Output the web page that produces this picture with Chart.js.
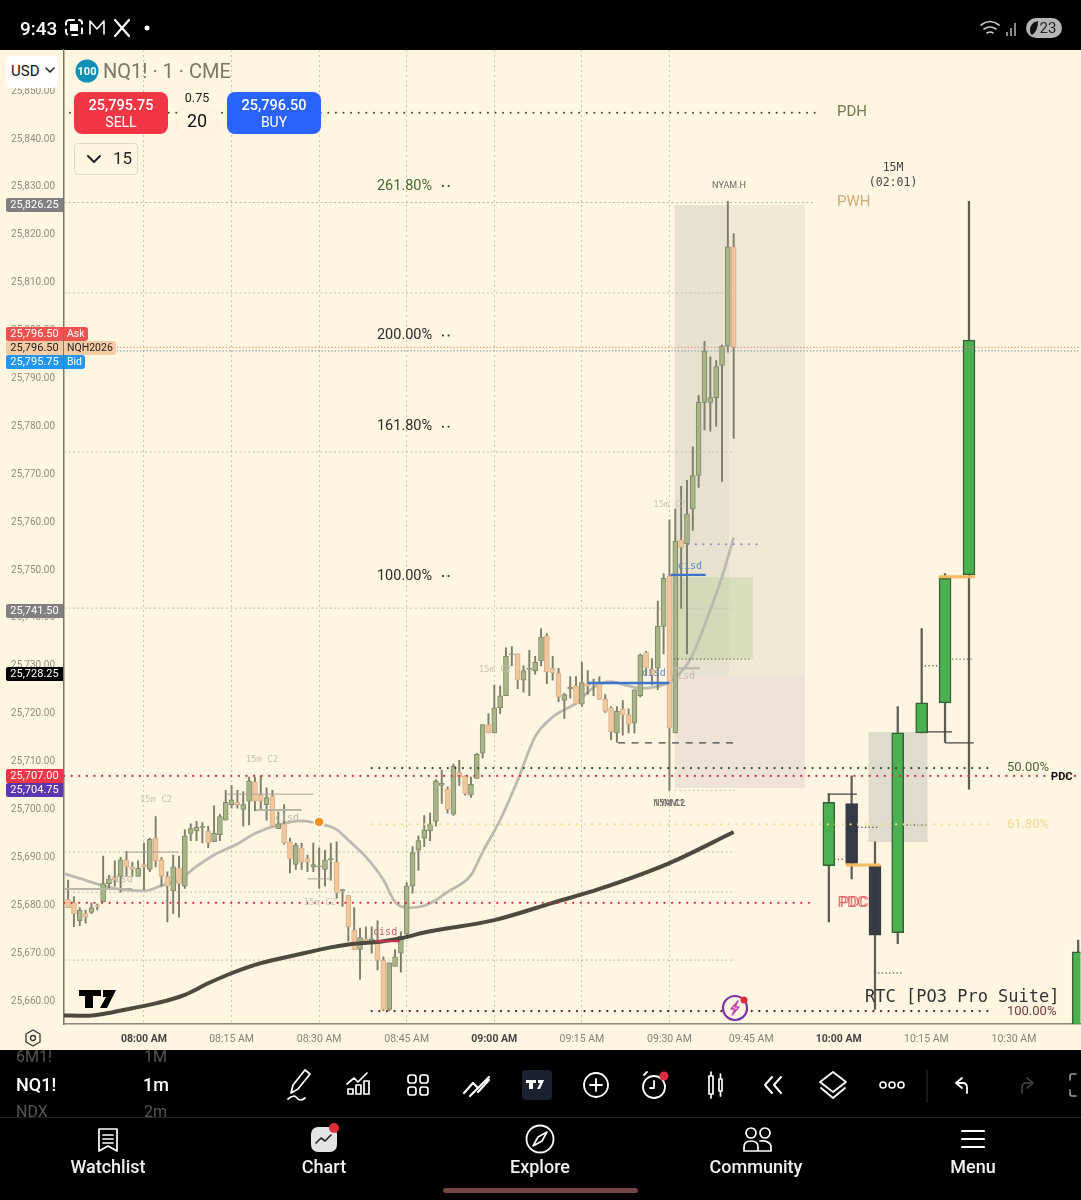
<!DOCTYPE html>
<html>
<head>
<meta charset="utf-8">
<title>NQ1! 1m</title>
<script src="https://cdn.jsdelivr.net/npm/chart.js@4/dist/chart.umd.min.js"></script>
<style>
html,body{margin:0;padding:0;background:#000;width:1081px;height:1200px;overflow:hidden;font-family:Roboto,sans-serif}
#paper{position:absolute;left:0;top:50px;width:1081px;height:1000px;background:#fff5e0}
#chart{position:absolute;left:0;top:0}
#icons{position:absolute;left:0;top:0;pointer-events:none}
.t{position:absolute;white-space:nowrap;line-height:1}
.c{transform:translateX(-50%)}
.chip{position:absolute;left:6px;width:57px;height:14px;line-height:14px;font-size:11px;text-align:center;border-radius:2px 0 0 2px}
.tag{position:absolute;left:64px;height:14px;line-height:14px;font-size:10.5px;padding:0 3px;border-radius:0 3px 3px 0}
.btn{position:absolute;top:92px;width:94px;height:42px;border-radius:8px;color:#fff;text-align:center}
.btn b{display:block;font-size:14.5px;font-weight:500;margin-top:5px;line-height:17px}
.btn span{display:block;font-size:14px;line-height:16px}
.tab{position:absolute;top:1157px;font-size:18px;font-weight:500;color:#f2f2f2;transform:translateX(-50%);line-height:1.1}
</style>
</head>
<body>
<div id="paper"></div>
<canvas id="chart" width="1087" height="1200"></canvas>

<!-- chart header, sits under the icon layer -->
<div class="t" style="left:6px;top:56px;width:52px;height:32px;background:#fff;border-radius:5px;font-size:15px;line-height:31px;text-indent:5px;color:#111">USD</div>

<svg id="icons" width="1081" height="1200" fill="none" stroke="#fff" stroke-width="2" stroke-linecap="round" stroke-linejoin="round">
  <!-- status bar -->
  <rect x="66" y="20" width="16" height="15" rx="3" stroke-dasharray="5 5"/><rect x="70" y="24" width="8" height="7" fill="#fff" stroke="none"/>
  <path d="M90 34V21l7 8 7-8v13" stroke-width="1.6"/>
  <path d="M115 20l14 16M129 20l-14 16" stroke-width="2.2"/>
  <circle cx="147" cy="28" r="2.5" fill="#fff" stroke="none"/>
  <path d="M981 25q9-7 18 0M984 29q6-4 12 0M987 33q3-2 6 0" stroke-width="1.6" stroke="#ccc"/>
  <path d="M1006 36h2v-4h-2zM1010 36h2v-8h-2zM1014 36h2v-13h-2z" fill="#888" stroke="none"/>
  <rect x="1026" y="18" width="36" height="20" rx="10" fill="#b5b5b5" stroke="none"/>
  <path d="M1038 21q-8 2-8 9 0 4 2 5 6-4 6-14z" fill="#111" stroke="none"/>
  <!-- chart marks -->
  <path d="M46 68l4 4 4-4" stroke="#222" stroke-width="1.6"/>
  <path d="M79 990h22v6h-8v12h-8v-12h-6zM103 990h13l-9 18h-7l6-11h-3z" fill="#000" stroke="none"/>
  <circle cx="735" cy="1008" r="12" stroke="#7b2fa8" stroke-width="2.2" fill="#fff5e0"/>
  <path d="M738 1001l-7 8h4l-3 6 7-8h-4z" stroke="#c23fae" stroke-width="1.4"/>
  <circle cx="744" cy="1000" r="3.5" fill="#e22b3c" stroke="none"/>
  <circle cx="87" cy="71" r="11.5" fill="#0d8fb8" stroke="none"/>
  <path d="M88 156l6 6 6-6" stroke="#222"/>
  <path d="M33 1030l7 4v8l-7 4-7-4v-8z" stroke="#333" stroke-width="1.3"/><circle cx="33" cy="1038" r="2.5" stroke="#333" stroke-width="1.3"/>
  <!-- toolbar -->
  <path d="M291 1093l2-8 12-15 5 4-12 15zM288 1099q6-5 9-1t8 0" stroke-width="1.7"/>
  <path d="M348 1094v-5h5v5zM356 1094v-9h5v9zM364 1094v-13h5v13zM347 1084l7-6 4 4 9-9" stroke-width="1.7"/>
  <rect x="408" y="1075" width="8" height="8" rx="2.5" stroke-width="1.7"/><rect x="420" y="1075" width="8" height="8" rx="2.5" stroke-width="1.7"/><rect x="408" y="1087" width="8" height="8" rx="2.5" stroke-width="1.7"/><rect x="420" y="1087" width="8" height="8" rx="2.5" stroke-width="1.7"/>
  <path d="M464 1093l9-10 5 5 11-11M470 1096l8-8M478 1092l11-12" stroke-width="2.2"/>
  <rect x="522" y="1070" width="30" height="30" rx="4" fill="#1b2130" stroke="none"/>
  <path d="M526 1080h10v3h-3v6h-4v-6h-3zM538 1080h6l-4 9h-3l3-6h-2z" fill="#fff" stroke="none"/>
  <circle cx="596" cy="1085" r="12" stroke-width="1.8"/><path d="M596 1079v12M590 1085h12" stroke-width="1.8"/>
  <circle cx="654" cy="1087" r="11" stroke-width="1.8"/><path d="M654 1081v7l-4 0M644 1075l3-3" stroke-width="1.8"/>
  <circle cx="664" cy="1076" r="4.5" fill="#e22b3c" stroke="none"/>
  <path d="M709 1076v18h4v-18zM711 1072v4M711 1094v4M719 1079v12h3v-12zM720.5 1074v5M720.5 1091v5" stroke-width="1.7"/>
  <path d="M772 1077l-7 8 7 8M781 1077l-7 8 7 8" stroke-width="2"/>
  <path d="M833 1072l13 10-13 10-13-10zM821 1088l12 10 12-10" stroke-width="1.8"/>
  <circle cx="883" cy="1085" r="3" stroke-width="1.6"/><circle cx="892" cy="1085" r="3" stroke-width="1.6"/><circle cx="901" cy="1085" r="3" stroke-width="1.6"/>
  <path d="M927 1070v32" stroke="#333" stroke-width="1"/>
  <path d="M962 1078l-6 5 6 5M956 1083h7q4 0 4 5v5" stroke-width="1.8"/>
  <path d="M1027 1078l6 5-6 5M1033 1083h-7q-4 0-4 5v5" stroke="#3a3a3a" stroke-width="1.8"/>
  <path d="M1076 1074h-4q-2 0-2 2v4M1070 1090v4q0 2 2 2h4" stroke="#999" stroke-width="1.6"/>
  <path d="M0 1117.5h1081" stroke="#222" stroke-width="1"/>
  <!-- tab bar -->
  <path d="M99 1129h18v22l-9-5-9 5zM103 1135h10M103 1139h10M103 1143h10" stroke-width="1.7"/>
  <rect x="311" y="1127" width="26" height="25" rx="7" fill="#e4e4e4" stroke="none"/>
  <path d="M316 1143l5-5 4 3 6-6" stroke="#222" stroke-width="1.6"/>
  <circle cx="334" cy="1128" r="5" fill="#e22b3c" stroke="none"/>
  <circle cx="540" cy="1139" r="13.5" stroke-width="1.8"/><path d="M547 1132l-9 5-5 9 9-5z" stroke-width="1.6"/>
  <circle cx="751" cy="1133" r="5" stroke-width="1.7"/><circle cx="765" cy="1133" r="5" stroke-width="1.7"/>
  <path d="M744 1151v-4q0-6 7-6 7 0 7 6v4zM760 1141q9-1 11 5v5h-13" stroke-width="1.7"/>
  <path d="M962 1131h22M962 1139h22M962 1147h22" stroke-width="2.2"/>
  <rect x="443" y="1188" width="195" height="5" rx="2.5" fill="#764545" stroke="none"/>
</svg>

<!-- status bar -->
<div class="t" style="left:20px;top:19px;font-size:19px;font-weight:500;color:#fff">9:43</div>
<div class="t c" style="left:1048px;top:21px;font-size:15px;color:#222">23</div>

<div class="t c" style="left:87px;top:66px;font-size:11px;font-weight:700;color:#fff">100</div>
<div class="t" style="left:103px;top:61px;font-size:20px;color:#7c7867">NQ1! · 1 · CME</div>
<div class="btn" style="left:74px;background:#f23645"><b>25,795.75</b><span>SELL</span></div>
<div class="btn" style="left:227px;background:#2962ff"><b>25,796.50</b><span>BUY</span></div>
<div class="t" style="left:177px;top:108px;width:40px;height:26px;background:#fff5e0;border-radius:9px;box-shadow:0 0 2px #eadfc8"></div>
<div class="t c" style="left:197px;top:92px;width:40px;height:16px;background:#fff5e0"></div>
<div class="t c" style="left:197px;top:92px;font-size:12.5px;color:#222">0.75</div>
<div class="t c" style="left:197px;top:112px;font-size:18px;color:#111">20</div>
<div class="t" style="left:74px;top:143px;width:62px;height:30px;border:1px solid #e2dac8;border-radius:4px"></div>
<div class="t" style="left:113px;top:150px;font-size:17px;color:#222">15</div>

<!-- price scale tags -->
<div class="chip" style="top:198px;background:#808080;color:#fff">25,826.25</div>
<div class="chip" style="top:327px;background:#ef5350;color:#fff">25,796.50</div>
<div class="tag" style="top:327px;background:#ef5350;color:#fff">Ask</div>
<div class="chip" style="top:341px;background:#f5cba3;color:#222">25,796.50</div>
<div class="tag" style="top:341px;background:#f5cba3;color:#222">NQH2026</div>
<div class="chip" style="top:355px;background:#2196f3;color:#fff">25,795.75</div>
<div class="tag" style="top:355px;background:#2196f3;color:#fff">Bid</div>
<div class="chip" style="top:604px;background:#808080;color:#fff">25,741.50</div>
<div class="chip" style="top:667px;background:#000;color:#fff">25,728.25</div>
<div class="chip" style="top:769px;background:#f23645;color:#fff">25,707.00</div>
<div class="chip" style="top:783px;background:#5e35b1;color:#fff">25,704.75</div>

<!-- toolbar text -->
<div style="position:absolute;left:0;top:1050px;width:260px;height:67px;overflow:hidden">
  <div class="t" style="left:16px;top:-1px;font-size:16px;color:#555">6M1!</div>
  <div class="t" style="left:144px;top:-1px;font-size:16px;color:#555">1M</div>
  <div class="t" style="left:16px;top:26px;font-size:18px;font-weight:500;color:#fff">NQ1!</div>
  <div class="t" style="left:143px;top:26px;font-size:18px;font-weight:500;color:#fff">1m</div>
  <div class="t" style="left:16px;top:54px;font-size:16px;color:#555">NDX</div>
  <div class="t" style="left:144px;top:54px;font-size:16px;color:#555">2m</div>
</div>
<div class="tab" style="left:108px">Watchlist</div>
<div class="tab" style="left:324px">Chart</div>
<div class="tab" style="left:540px">Explore</div>
<div class="tab" style="left:756px">Community</div>
<div class="tab" style="left:973px">Menu</div>

<script>
'use strict';

// 1 minute bars, first one is bar -13 (bar 0 = 08:00)
const firstBar = -13;
const opens = [
  25681.25,25680.5,25676.75,25678.25,25678.5,25680,25680.75,25684.5,25685.75,25686,
  25689.5,25688,25686,25688.5,25687.5,25694,25689.5,25686,25683,25687.75,
  25684,25695,25695.5,25696.25,25695.5,25693.25,25694.75,25697.75,25701,25701.5,
  25700,25701.75,25705.75,25703,25701,25702.75,25696,25697,25693.25,25688.5,
  25692,25689.75,25688,25688,25687.5,25689.5,25689,25683,25682,25674.75,
  25670.75,25673,25672,25672.25,25668.5,25658.25,25667.25,25670,25674,25684,
  25691.5,25694,25695.5,25697.5,25705,25704.25,25699,25707.75,25707,25703,
  25706.5,25711.75,25717.75,25716,25721.25,25723.75,25732.25,25732.5,25727,25729.25,
  25729,25731,25736.25,25729.5,25728.5,25722.75,25725.25,25725.75,25722,25726.25,
  25726.25,25726.25,25723,25721.25,25716,25721,25719.75,25718,25723.75,25732.75,
  25729.25,25729.5,25738.25,25748.75,25716,25756.25,25755.5,25762.75,25769.75,25785,
  25785,25786,25792.75,25796.75,25817.5
];
const highs = [
  25685.25,25681.75,25679.5,25679,25680.5,25680.25,25690.25,25686.25,25689.25,25690,
  25691.25,25689,25689.25,25693,25694,25698.5,25690,25687,25690.5,25690.25,
  25695.75,25697,25697.5,25697.25,25696.5,25700.75,25699,25704,25705,25704,
  25703.75,25706.75,25706.75,25707,25704.5,25704,25699.5,25701,25694,25693,
  25693,25690.5,25693,25692,25691.5,25693,25693.25,25683.25,25682,25679.5,
  25675.25,25675.5,25675.5,25676.75,25669.25,25668,25670.75,25674.5,25684.75,25692.25,
  25694.5,25698.75,25699.25,25706.25,25708.25,25704.75,25709.5,25710.25,25707,25706.75,
  25711.75,25717.75,25720,25726,25725.75,25733.75,25734,25732.5,25730,25733.25,
  25732,25737.75,25736.75,25732,25729.5,25724.25,25727.75,25727.75,25730.75,25729,
  25727.25,25727.75,25724,25721.5,25721.5,25722.75,25721,25725,25732.5,25733,
  25731.5,25743.5,25749.25,25760.5,25762.75,25767.5,25768.75,25775.75,25786.5,25797.75,
  25794.5,25793.75,25797,25827,25820.25
];
const lows = [
  25679.5,25675.5,25675.75,25676.25,25678.25,25679,25680.75,25683.5,25684,25682.75,
  25686,25686,25686,25683.25,25687,25688,25684,25676.5,25678.25,25677.5,
  25683.5,25693.5,25693.5,25693,25692,25693.25,25693.5,25697.75,25700.25,25700.25,
  25696.5,25696.75,25699.75,25700,25697.75,25696.5,25696,25692.75,25686.75,25687.5,
  25687.5,25687,25687,25683.5,25684,25685.25,25681.5,25679.75,25672.5,25670.75,
  25664.5,25671.75,25670,25666.5,25658,25658,25667.25,25666,25673,25682.5,
  25687.25,25692.25,25693.5,25696.5,25701.25,25699.25,25698.75,25705,25703,25702.5,
  25706.5,25710.75,25716,25716,25720,25723.75,25730,25725.25,25724.5,25723.75,
  25728.25,25730,25726.25,25727,25722.5,25719,25723.25,25722,25721.5,25724,
  25723.75,25723,25720.25,25714.5,25714,25715.5,25716,25716,25723.5,25728,
  25726,25725,25732.5,25704,25716,25742,25732.5,25758.25,25767.25,25779.25,
  25779,25780,25768.5,25795.5,25777.5
];
const closes = [
  25679.5,25678.25,25679,25677.5,25679.5,25679.75,25684.5,25685.5,25685.25,25689.5,
  25688,25687.5,25687.75,25688,25693.75,25689.25,25686,25684,25688,25684.5,
  25694.5,25696,25696.25,25696.5,25693,25695,25698.5,25701.5,25702,25701,
  25701,25706,25701.75,25701.75,25702.5,25696.5,25697,25693,25689.75,25692.5,
  25689,25689,25688.5,25688.25,25689.5,25689.75,25682.5,25683.25,25675.5,25670.75,
  25673.25,25672.25,25673,25668.5,25658.25,25668,25669.25,25673.5,25684,25691,
  25693.5,25695.75,25697,25706,25705.5,25700,25709,25706.75,25703.25,25705.25,
  25711.5,25717.75,25716,25721.25,25723.75,25732,25732.5,25727,25729,25729.5,
  25730.75,25736,25728.75,25728.5,25723.5,25724,25725.5,25722,25726.5,25725.75,
  25726.5,25723,25720.5,25716.25,25720.5,25719.75,25717.75,25725,25732.25,25729.5,
  25728,25738.25,25748.25,25717,25756,25754.75,25761.75,25769.75,25785,25795.75,
  25786,25792.5,25796.75,25817.5,25796.5
];

// 15M candles on the right
const htfBars = [117.3,121.2,125.2,129.1,133.2,137.2,141.3,160];
const htfOpens = [25688.25,25701.25,25688.25,25674.25,25716,25722.25,25749,25655];
const htfHighs = [25703.25,25707,25693.25,25721.5,25737.75,25749.25,25827,25672.75];
const htfLows = [25676.5,25685.5,25658.25,25672,25716,25714,25704.25,25655];
const htfCloses = [25701.5,25688.75,25673.75,25716,25722.25,25748.25,25798,25670.25];

// moving averages
const smaBars = [-14,-11,-7,-4,0,3,6,9,12,16,19,23,27,30,33,35,38,41,43,45,48,50,52,56,58,61,64,67,70,74,77,80,83,85,88,90,93.5,97,99,101];
const smaValues = [25686.7,25685.6,25684.1,25683.3,25683,25684.1,25685.3,25688.1,25690.5,25692.8,25695,25696.8,25697.6,25697,25695.8,25693.6,25690.1,25685.3,25680.7,25679.5,25679.9,25681.1,25682.8,25686.3,25691.1,25697.8,25706.1,25715.2,25719.3,25722.2,25725.5,25726.7,25725.8,25725.3,25725.7,25726.7,25731.2,25741.7,25748.6,25756.8];
const emaBars = [-14,-10,-7,-2,2,7,11,15,20,26,32,35,41,44,48,60,70,78,90,101];
const emaValues = [25657,25656.9,25657.3,25658.5,25659.5,25661.3,25663.7,25665.8,25667.9,25669.6,25671.2,25671.8,25672.5,25673.1,25674.3,25676.9,25680.5,25683.4,25688.8,25695.3];

// axis ticks
const yTicks = [25660,25670,25680,25690,25700,25710,25720,25730,25740,25750,25760,25770,25780,25790,25800,25810,25820,25830,25840,25850];
const xTickBars = [0,15,30,45,60,75,90,104,119,134,149];
const xTickLabels = ['08:00 AM','08:15 AM','08:30 AM','08:45 AM','09:00 AM','09:15 AM','09:30 AM','09:45 AM','10:00 AM','10:15 AM','10:30 AM'];
const xTickBold = ['08:00 AM','09:00 AM','10:00 AM'];

// levels: [from bar, to bar, price]
const pdhLevel = [[-12.7,115,25845.5]];
const pwhLevel = [[-13.7,115,25826.75]];
const pdcLevels = [[-13.7,160.4,25707],[-13.7,115,25680.5]];
const fib50 = [[39,145.7,25708.65]];
const fib618 = [[39,145.7,25696.9]];
const fib100 = [[39,145.7,25657.9]];
const fibStubs = [[51.2,52.6,25830.2],[51.2,52.6,25799],[51.2,52.6,25779.9],[51.2,52.6,25748.75]];
const askLevel = [[-13.7,160.4,25796.5]];
const bidLevel = [[-13.7,160.4,25795.75]];
const faintLevels = [[-13.7,101.2,25807.85],[-13.7,101.2,25774.65],[-13.7,101.2,25742.05],[-13.7,101.2,25691.1],[-13.7,101.2,25682.75],[-13.7,101.2,25668.55],[90.9,101.2,25704]];
const thickGrey = [[-13.7,-2,25683.4],[19.2,27,25699.9],[90.6,95.2,25729.5]];
const thinGrey = [[14,29,25703.2],[-3,6,25691.1],[28,32,25685.5]];
const blueCisd = [[76,90,25726.4],[90.2,96.2,25749]];
const redCisd = [[39.6,43.8,25672.5]];
const blueDots = [[93.2,105,25755.4]];
const darkDots = [[90.9,103.8,25731.4],[122.3,126,25696.3],[118.3,120,25689.6],[130.7,134.1,25696.75],[133.2,136,25730],[138.5,142,25731.4],[125.2,130,25665.85]];
const darkDash = [[81.2,101,25713.9]];
const darkThin = [[117.1,122.1,25703.2],[134.2,138.4,25716.2],[137.2,142.1,25713.9]];
const orangeLevels = [[120.2,126.2,25688.4],[136.1,142.3,25748.6]];

// zones
const zoneFrom = [90.9,100.2,90.9,90.9,124.1];
const zoneTo = [100.2,113.2,113.2,104.3,134.2];
const zoneTop = [25826.2,25826.2,25728.1,25748.5,25716.2];
const zoneBottom = [25728.1,25728.1,25704.5,25731.4,25693.2];
const zoneFill = ['#e7e1cf','#f1e9d6','#efe3d7','rgba(180,205,150,0.38)','#dfdccd'];

// alert dot
const alertBar = [30];
const alertPrice = [25697.4];

// texts on the chart
const labelText = ['15m C2','15m C2','15m C2','15m C2','15m C2','15M C2','NYAM.L','NYAM.H',
  'cisd','cisd','cisd','cisd','cisd','cisd',
  '261.80%','200.00%','161.80%','100.00%','50.00%','61.80%','100.00%',
  'PDH','PWH','PDC','PDC','PDC','15M','(02:01)','RTC [PO3 Pro Suite]'];
const labelBar = [2.05,20.2,30.1,60.1,90,90,90,100.2,
  24.5,-4,41.3,87.3,93.5,92.3,
  39.9,39.9,39.9,39.9,147.8,147.8,147.8,
  118.7,118.7,118.8,119.2,157.2,128.3,128.3,123.5];
const labelPrice = [25702,25710.3,25680.5,25729.3,25763.6,25701.1,25701.1,25830.2,
  25698.2,25685.3,25674.4,25728.5,25750.8,25727.7,
  25830.2,25799,25779.9,25748.75,25708.65,25696.9,25657.7,
  25845.6,25826.9,25680.5,25680.5,25706.8,25834,25830.9,25660.8];
const labelKind = ['c2','c2','c2','c2','c2','tiny','tiny','tiny',
  'cisdGrey','cisdGrey','cisdRed','cisdBlue','cisdBlue','cisdGrey',
  'fibGreen','fib','fib','fib','fibSmGreen','fibSmYellow','fibSmRed',
  'pdh','pwh','pdc','pdc','pdcBlack','timer','timer','suite'];
const labelStyles = {
  c2: {font:'9px "DejaVu Sans Mono"', color:'#c9c4b4', align:'center'},
  tiny: {font:'9px Roboto', color:'#666', align:'center'},
  cisdGrey: {font:'10px "DejaVu Sans Mono"', color:'#bdb8a8', align:'center'},
  cisdRed: {font:'10px "DejaVu Sans Mono"', color:'#cf5a6c', align:'center'},
  cisdBlue: {font:'10px "DejaVu Sans Mono"', color:'#5f86c9', align:'center'},
  fib: {font:'14.5px Roboto', color:'#2a2a2a', align:'left'},
  fibGreen: {font:'14.5px Roboto', color:'#3f6b31', align:'left'},
  fibSmGreen: {font:'13px Roboto', color:'#47683b', align:'left'},
  fibSmYellow: {font:'13px Roboto', color:'#f0d98f', align:'left'},
  fibSmRed: {font:'13px Roboto', color:'#7a3a3f', align:'left'},
  pdh: {font:'15px Roboto', color:'#6d7a52', align:'left'},
  pwh: {font:'15px Roboto', color:'#d3aa7c', align:'left'},
  pdc: {font:'15px Roboto', color:'rgba(224,86,91,0.8)', align:'left'},
  pdcBlack: {font:'bold 11px Roboto', color:'#111', align:'center'},
  timer: {font:'11.5px "DejaVu Sans Mono"', color:'#444', align:'center'},
  suite: {font:'17px "DejaVu Sans Mono"', color:'#333', align:'left'}
};

function level(rows, color, width, dash, cap, order) {
  return rows.map(r => ({
    type: 'line',
    data: [{x: r[0], y: r[2]}, {x: r[1], y: r[2]}],
    borderColor: color,
    borderWidth: width,
    borderDash: dash,
    borderCapStyle: cap || 'butt',
    pointRadius: 0,
    order: order || 10
  }));
}

const DOTS = [0.1, 7.5];
const wickData = lows.map((l, k) => ({x: firstBar + k, y: [l, highs[k]]}));
const bodyData = opens.map((o, k) => ({x: firstBar + k, y: [o, closes[k]]}));
const htfWicks = htfBars.map((b, k) => ({x: b, y: [htfLows[k], htfHighs[k]]}));
const htfBodies = htfBars.map((b, k) => ({x: b, y: [htfOpens[k], htfCloses[k]]}));

const datasets = [
  ...level(faintLevels, '#c4c0ae', 1, [2, 2.5], 'butt', 60),
  ...level(pwhLevel, '#b9b5a3', 1, [2, 2.5], 'butt', 60),
  {type: 'line', data: smaBars.map((b, k) => ({x: b, y: smaValues[k]})), borderColor: '#bbbab0', borderWidth: 2.8, pointRadius: 0, cubicInterpolationMode: 'monotone', order: 50},
  {type: 'bar', data: wickData, barThickness: 1.3, grouped: false, backgroundColor: '#7d806b', order: 40},
  {type: 'bar', data: bodyData, barThickness: 5, grouped: false, borderWidth: 1, borderSkipped: false,
    backgroundColor: opens.map((o, k) => closes[k] >= o ? '#a9b588' : '#f3c79c'),
    borderColor: opens.map((o, k) => closes[k] >= o ? '#7f8b68' : '#d9b08c'), order: 39},
  {type: 'bar', data: htfWicks, barThickness: 1.6, grouped: false, backgroundColor: '#5e5e55', order: 38},
  {type: 'bar', data: htfBodies, barThickness: 12, grouped: false, borderWidth: 1.5, borderSkipped: false,
    backgroundColor: htfOpens.map((o, k) => htfCloses[k] >= o ? '#4caf50' : '#363a45'),
    borderColor: htfOpens.map((o, k) => htfCloses[k] >= o ? '#35603a' : '#363a45'), order: 37},
  {type: 'line', data: emaBars.map((b, k) => ({x: b, y: emaValues[k]})), borderColor: '#4c4a3f', borderWidth: 4, pointRadius: 0, cubicInterpolationMode: 'monotone', order: 30},
  ...level(thickGrey, '#b9b6a8', 2, [], 'butt', 20),
  ...level(thinGrey, '#a9a69a', 1, [], 'butt', 20),
  ...level(darkThin, '#444', 1.3, [], 'butt', 20),
  ...level(blueCisd, '#3f72c9', 2.4, [], 'butt', 20),
  ...level(redCisd, '#d0304a', 2, [], 'butt', 20),
  ...level(orangeLevels, '#f6b860', 3, [], 'butt', 20),
  ...level(darkDash, '#444', 1.4, [7, 6.5], 'butt', 20),
  ...level(darkDots, '#555', 1.4, [0.1, 3.6], 'round', 20),
  ...level(blueDots, '#7a8fc0', 2, DOTS, 'round', 20),
  ...level(askLevel, '#e08a80', 1, [1.5, 1.8], 'butt', 15),
  ...level(bidLevel, '#7a9aa0', 1, [1.5, 1.8], 'butt', 15),
  ...level(pdhLevel, '#4a4a40', 2, DOTS, 'round', 12),
  ...level(pdcLevels, '#d8333f', 2.2, DOTS, 'round', 12),
  ...level(fib50, '#2f4f2a', 2.2, DOTS, 'round', 12),
  ...level(fib618, '#f3d98b', 2.2, DOTS, 'round', 12),
  ...level(fib100, '#5a1f22', 2.2, DOTS, 'round', 12),
  ...level(fibStubs, '#333', 2, [0.1, 5.5], 'round', 12),
  {type: 'line', data: alertBar.map((b, k) => ({x: b, y: alertPrice[k]})), showLine: false, pointRadius: 5, pointBackgroundColor: '#f5921e', pointBorderColor: '#fff', pointBorderWidth: 1.5, order: 5}
];

const zones = {
  id: 'zones',
  beforeDatasetsDraw(chart) {
    const {ctx, scales: {x, y}} = chart;
    ctx.save();
    zoneFrom.forEach((from, k) => {
      const left = x.getPixelForValue(from);
      const top = y.getPixelForValue(zoneTop[k]);
      ctx.fillStyle = zoneFill[k];
      ctx.fillRect(left, top, x.getPixelForValue(zoneTo[k]) - left, y.getPixelForValue(zoneBottom[k]) - top);
    });
    ctx.restore();
  }
};

const labels = {
  id: 'labels',
  afterDatasetsDraw(chart) {
    const {ctx, scales: {x, y}} = chart;
    ctx.save();
    ctx.textBaseline = 'middle';
    labelText.forEach((text, k) => {
      const st = labelStyles[labelKind[k]];
      ctx.font = st.font;
      ctx.fillStyle = st.color;
      ctx.textAlign = st.align;
      ctx.fillText(text, x.getPixelForValue(labelBar[k]), y.getPixelForValue(labelPrice[k]));
    });
    ctx.restore();
  }
};

new Chart(document.getElementById('chart'), {
  type: 'bar',
  data: {datasets},
  plugins: [zones, labels],
  options: {
    responsive: false,
    animation: false,
    events: [],
    devicePixelRatio: 1,
    layout: {padding: {top: 50, bottom: 150, left: 0, right: 0}},
    plugins: {legend: {display: false}, tooltip: {enabled: false}},
    scales: {
      x: {
        type: 'linear',
        offset: false,
        min: -13.7,
        max: 160.4,
        afterBuildTicks: s => { s.ticks = xTickBars.map(v => ({value: v})); },
        afterFit: s => { s.height = 26; s.paddingLeft = 0; s.paddingRight = 0; },
        border: {color: '#8a8a80', width: 1.5, dash: [2, 3]},
        grid: {
          offset: false,
          drawTicks: false,
          lineWidth: 1,
          color: c => (c.tick && c.tick.value <= 90 ? '#c9c5b2' : 'transparent')
        },
        ticks: {
          autoSkip: false,
          maxRotation: 0,
          padding: 9,
          callback: (v, i) => xTickLabels[i],
          color: c => (xTickBold.includes(xTickLabels[c.index]) ? '#444' : '#85837a'),
          font: c => (xTickBold.includes(xTickLabels[c.index]) ? {family: 'Roboto', size: 10.5, weight: '700'} : {family: 'Roboto', size: 10.5})
        }
      },
      y: {
        min: 25655.2,
        max: 25858.6,
        afterBuildTicks: s => { s.ticks = yTicks.map(v => ({value: v})); },
        afterFit: s => { s.width = 64; },
        border: {color: '#77776c', width: 1.5},
        grid: {display: false, drawTicks: false},
        ticks: {
          padding: 9,
          color: '#8f8d82',
          font: {family: 'Roboto', size: 10},
          callback: v => v.toLocaleString('en-US', {minimumFractionDigits: 2})
        }
      }
    }
  }
});
</script>
</body>
</html>
